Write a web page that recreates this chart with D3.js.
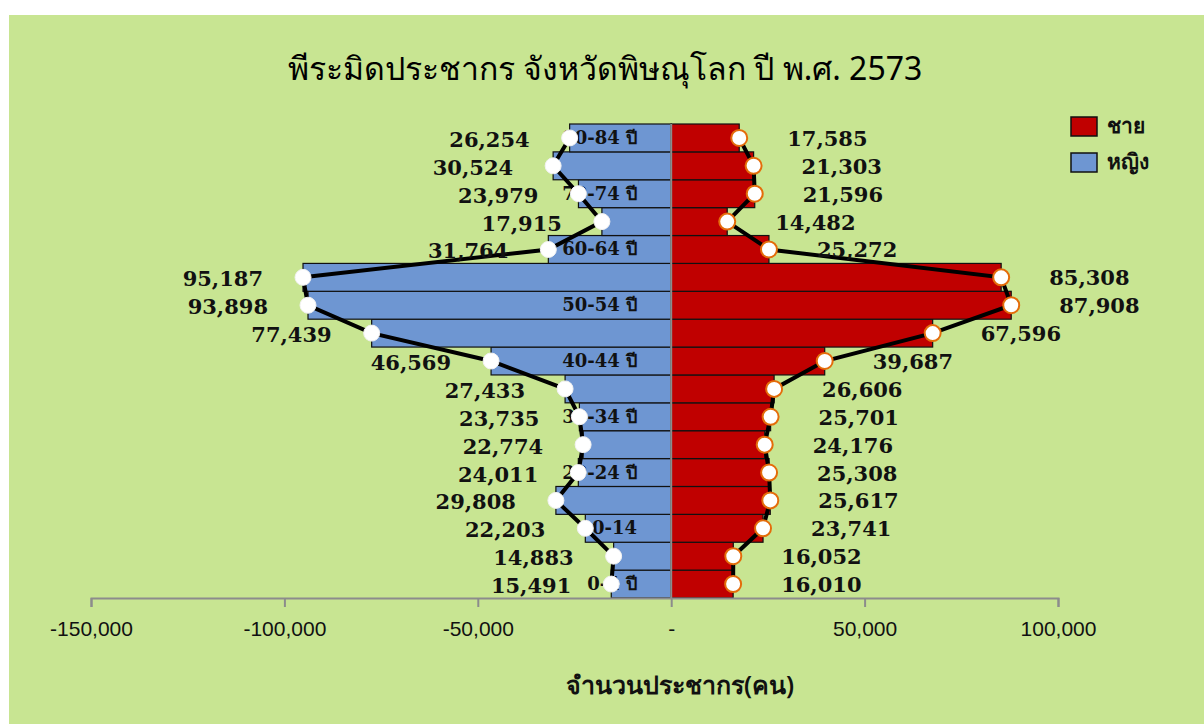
<!DOCTYPE html>
<meta charset="utf-8">
<style>
body { margin: 0; background: #fff; }
svg { display: block; }
.lbl { font-family: "DejaVu Serif", serif; font-weight: bold; font-size: 21px; fill: #111; }
.cat { font-family: "DejaVu Serif", serif; font-weight: bold; font-size: 18px; fill: #111; }
</style>
<script src="https://cdnjs.cloudflare.com/ajax/libs/d3/7.8.5/d3.min.js"></script>
<body></body>
<script>

var width = 1204;
var height = 724;

// age groups, bottom to top
var ageGroups = ["0-4 ปี", "5-9 ปี", "10-14", "15-19 ปี", "20-24 ปี", "25-29 ปี", "30-34 ปี", "35-39 ปี",
  "40-44 ปี", "45-49 ปี", "50-54 ปี", "55-59 ปี", "60-64 ปี", "65-69 ปี", "70-74 ปี", "75-79 ปี", "80-84 ปี"];
var male = [16010, 16052, 23741, 25617, 25308, 24176, 25701, 26606, 39687, 67596, 87908, 85308, 25272, 14482, 21596, 21303, 17585];
var female = [15491, 14883, 22203, 29808, 24011, 22774, 23735, 27433, 46569, 77439, 93898, 95187, 31764, 17915, 23979, 30524, 26254];
var tickValues = [-150000, -100000, -50000, 0, 50000, 100000];
var seriesNames = ["ชาย", "หญิง"];

var rows = ageGroups.map(function(a, i) {
  return { age: a, i: i, male: male[i], female: female[i] };
});

var svg = d3.select('body').append('svg')
  .attr('width', width)
  .attr('height', height);

// chart area background
svg.append('rect')
  .attr('x', 9).attr('y', 15)
  .attr('width', width - 9).attr('height', height - 15)
  .attr('fill', '#c8e592');

var x = d3.scaleLinear().domain([-150000, 100000]).range([91, 1058]);
var y = d3.scaleBand().domain(ageGroups.slice().reverse()).range([124, 598]).padding(0);
var cy = function(d) { return y(d.age) + y.bandwidth() / 2; };
var fmt = d3.format(',');

// title
svg.append('text')
  .attr('x', 605).attr('y', 80)
  .attr('text-anchor', 'middle')
  .style('font-family', '"Noto Sans", "DejaVu Sans", sans-serif')
  .style('font-size', '32px')
  .attr('fill', '#000')
  .text('พีระมิดประชากร จังหวัดพิษณุโลก ปี พ.ศ. 2573');

// bars
svg.selectAll('.fbar').data(rows).enter().append('rect')
  .attr('class', 'fbar')
  .attr('x', function(d) { return x(-d.female); })
  .attr('y', function(d) { return y(d.age); })
  .attr('width', function(d) { return x(0) - x(-d.female); })
  .attr('height', y.bandwidth())
  .attr('fill', '#6e96d2')
  .attr('stroke', '#111')
  .attr('stroke-width', 1.2);

svg.selectAll('.mbar').data(rows).enter().append('rect')
  .attr('class', 'mbar')
  .attr('x', x(0))
  .attr('y', function(d) { return y(d.age); })
  .attr('width', function(d) { return x(d.male) - x(0); })
  .attr('height', y.bandwidth())
  .attr('fill', '#c00000')
  .attr('stroke', '#111')
  .attr('stroke-width', 1.2);

// center axis line
svg.append('line')
  .attr('x1', x(0)).attr('x2', x(0))
  .attr('y1', 124).attr('y2', 598)
  .attr('stroke', '#8c8c8c').attr('stroke-width', 2);

// category labels (every other group)
svg.selectAll('.cat').data(rows.filter(function(d) { return d.i % 2 === 0; })).enter().append('text')
  .attr('class', 'cat')
  .attr('x', 637)
  .attr('y', function(d) { return cy(d) + 6; })
  .attr('text-anchor', 'end')
  .text(function(d) { return d.age; });

// x axis
var xAxis = d3.axisBottom(x)
  .tickValues(tickValues)
  .tickSize(9)
  .tickPadding(14)
  .tickFormat(function(d) { return d === 0 ? '-' : (d < 0 ? '-' : '') + fmt(Math.abs(d)); });

var gx = svg.append('g')
  .attr('transform', 'translate(0,598)')
  .call(xAxis);
gx.select('.domain').attr('stroke', '#8c8c8c').attr('stroke-width', 2);
gx.selectAll('.tick line').attr('stroke', '#8c8c8c').attr('stroke-width', 2);
gx.selectAll('.tick text')
  .attr('fill', '#111')
  .style('font-family', '"Liberation Sans", sans-serif')
  .style('font-size', '21px');

svg.append('text')
  .attr('x', 680).attr('y', 694)
  .attr('text-anchor', 'middle')
  .style('font-family', '"Noto Sans", "DejaVu Sans", sans-serif')
  .style('font-size', '25px')
  .style('font-weight', '600')
  .attr('fill', '#111')
  .text('จำนวนประชากร(คน)');

// lines with markers
var femaleLine = d3.line().x(function(d) { return x(-d.female); }).y(cy);
var maleLine = d3.line().x(function(d) { return x(d.male); }).y(cy);

svg.append('path').datum(rows)
  .attr('d', femaleLine)
  .attr('fill', 'none').attr('stroke', '#000').attr('stroke-width', 4);
svg.append('path').datum(rows)
  .attr('d', maleLine)
  .attr('fill', 'none').attr('stroke', '#000').attr('stroke-width', 4);

svg.selectAll('.fdot').data(rows).enter().append('circle')
  .attr('cx', function(d) { return x(-d.female); })
  .attr('cy', cy)
  .attr('r', 8)
  .attr('fill', '#fff')
  .attr('stroke', '#f2f2f2').attr('stroke-width', 1);
svg.selectAll('.mdot').data(rows).enter().append('circle')
  .attr('cx', function(d) { return x(d.male); })
  .attr('cy', cy)
  .attr('r', 8)
  .attr('fill', '#fff')
  .attr('stroke', '#e46c0a').attr('stroke-width', 2);

// data labels
svg.selectAll('.flbl').data(rows).enter().append('text')
  .attr('class', 'lbl')
  .attr('x', function(d) { return x(-d.female) - 40; })
  .attr('y', function(d) { return cy(d) + 9; })
  .attr('text-anchor', 'end')
  .text(function(d) { return fmt(d.female); });
svg.selectAll('.mlbl').data(rows).enter().append('text')
  .attr('class', 'lbl')
  .attr('x', function(d) { return x(d.male) + 48; })
  .attr('y', function(d) { return cy(d) + 8; })
  .text(function(d) { return fmt(d.male); });

// legend
var legend = svg.selectAll('.leg').data(seriesNames).enter().append('g')
  .attr('transform', function(d, i) { return 'translate(1071,' + (117 + i * 36) + ')'; });
legend.append('rect')
  .attr('width', 26).attr('height', 19)
  .attr('fill', function(d, i) { return i === 0 ? '#c00000' : '#6e96d2'; })
  .attr('stroke', '#111').attr('stroke-width', 1.5);
legend.append('text')
  .attr('x', 36).attr('y', 16)
  .style('font-family', '"Noto Sans", "DejaVu Sans", sans-serif')
  .style('font-weight', 'bold')
  .style('font-size', '21px')
  .attr('fill', '#111')
  .text(function(d) { return d; });

</script>
